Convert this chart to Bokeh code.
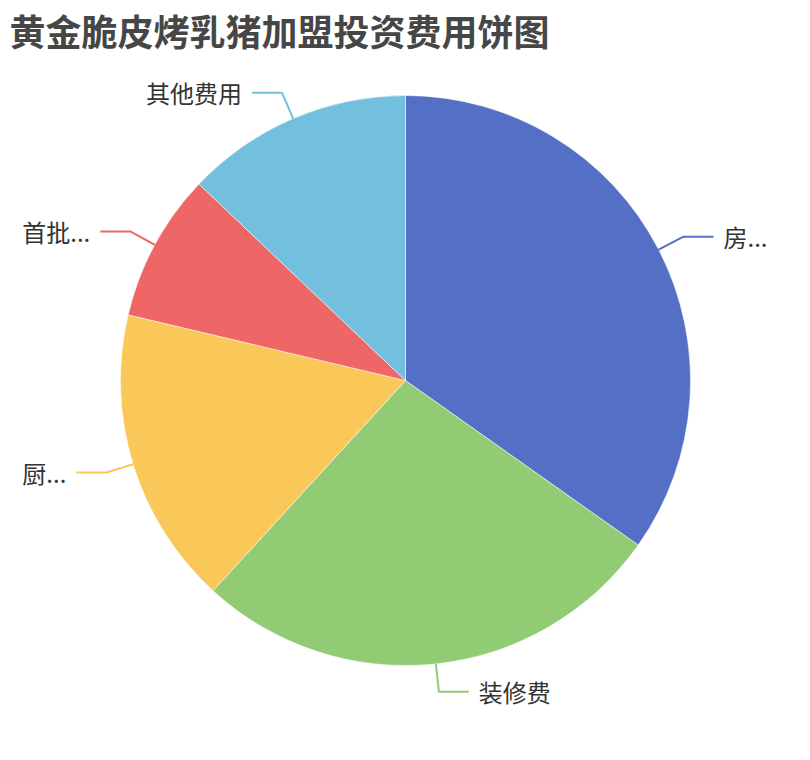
import math
from bokeh.plotting import figure
from bokeh.models import ColumnDataSource, Range1d
from bokeh.core.properties import value
from bokeh.embed import file_html
from bokeh.resources import INLINE

title = "黄金脆皮烤乳猪加盟投资费用饼图"
labels = ["房...", "装修费", "厨...", "首批...", "其他费用"]
amounts = [34.8, 27.0, 16.9, 8.4, 12.9]
colors = ["#5470c6", "#91cc75", "#fac858", "#ee6666", "#73c0de"]

W = 794
H = 744
FONT = "Noto Sans CJK SC"


def px(x):
    return x


def py(y):
    return H - y


def main():
    cx, cy, r = px(405), py(380), 285
    len1, len2, gap = 28, 30, 10

    p = figure(width=W, height=H, x_range=Range1d(0, W), y_range=Range1d(0, H),
               x_axis_type=None, y_axis_type=None, toolbar_location=None,
               output_backend="svg", min_border=0)
    p.grid.visible = False
    p.outline_line_color = None

    total = sum(amounts)
    starts, ends, mids = [], [], []
    acc = 0.0
    for a in amounts:
        a0 = acc / total * 2 * math.pi
        acc += a
        a1 = acc / total * 2 * math.pi
        starts.append(math.pi / 2 - a0)
        ends.append(math.pi / 2 - a1)
        mids.append((a0 + a1) / 2)

    src = ColumnDataSource(dict(start=starts, end=ends, color=colors))
    p.wedge(x=cx, y=cy, radius=r, start_angle="start", end_angle="end",
            direction="clock", fill_color="color", line_color="white",
            line_width=0.5, source=src)

    # label lines and labels
    for lab, m, c in zip(labels, mids, colors):
        sx = math.sin(m)
        cyy = math.cos(m)
        x0, y0 = cx + r * sx, cy + r * cyy
        x1, y1 = cx + (r + len1) * sx, cy + (r + len1) * cyy
        side = 1 if sx >= 0 else -1
        x2 = x1 + side * len2
        p.line([x0, x1, x2], [y0, y1, y1], line_color=c, line_width=2)
        p.text(x=[x2 + side * gap], y=[y1], text=[lab],
               text_font=value(FONT), text_font_size="24px",
               text_color="#333333", text_baseline="middle",
               text_align="left" if side > 0 else "right")

    p.text(x=[px(9)], y=[py(3)], text=[title], text_font=value(FONT),
           text_font_size="36px", text_font_style="bold",
           text_color="#464646", text_baseline="top", text_align="left")

    open("out.html", "w").write(file_html(p, INLINE))


main()
